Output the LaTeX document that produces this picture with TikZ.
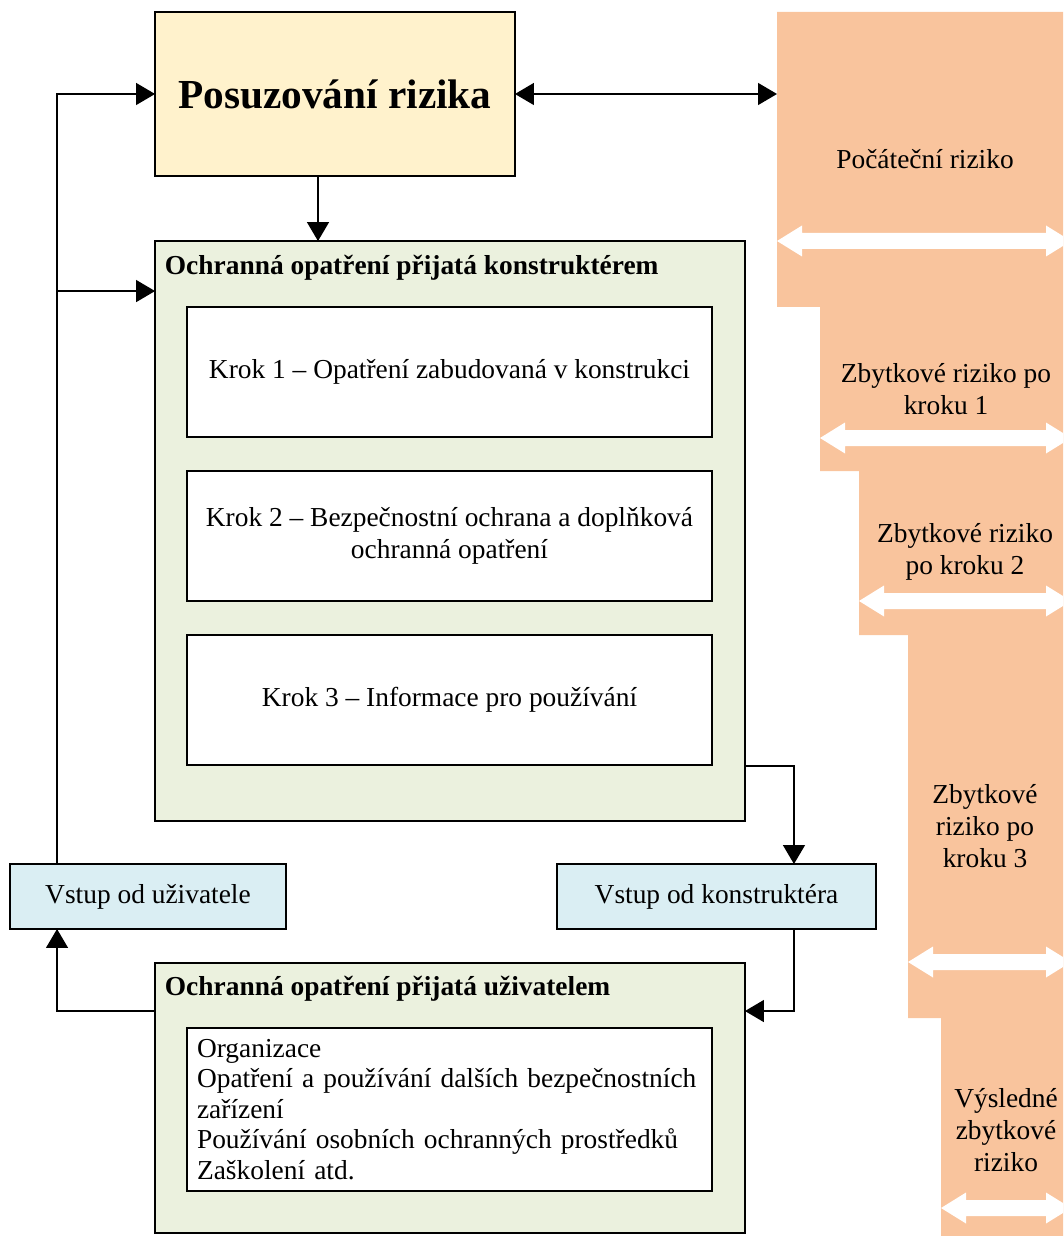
\documentclass[tikz,border=0pt]{standalone}
\usepackage{fontspec}
\setmainfont{Liberation Serif}
\usepackage{tikz}
\usepackage{xcolor}
\usetikzlibrary{arrows.meta}

\definecolor{zluta}{HTML}{FFF2CC}
\definecolor{zelena}{HTML}{EBF1DE}
\definecolor{modra}{HTML}{DAEEF3}
\definecolor{oranz}{HTML}{F9C49D}

\begin{document}
\begin{tikzpicture}[x=0.02cm,y=0.02cm,line width=0.8pt,
  >={Triangle[length=0.38cm,width=0.44cm]},
  every node/.style={font=\fontsize{15.6}{17.3}\selectfont,outer sep=0pt},
  krokbox/.style={draw,fill=white,minimum width=10.5cm,minimum height=2.6cm,align=center,
    font=\fontsize{15.6}{18.4}\selectfont},
  grbox/.style={draw,fill=zelena,minimum width=11.8cm},
  vstbox/.style={draw,fill=modra,minimum height=1.3cm},
  hd/.style={font=\fontsize{15.6}{17.3}\selectfont\bfseries,anchor=west},
  rz/.style={align=center,font=\fontsize{15.6}{18.4}\selectfont}]
  \useasboundingbox (0,0) rectangle (1063,-1236);

  \fill[oranz] (777,-12) -- (1063,-12) -- (1063,-1236) -- (941,-1236) -- (941,-1018)
    -- (908,-1018) -- (908,-635) -- (859,-635) -- (859,-471) -- (820,-471)
    -- (820,-307) -- (777,-307) -- cycle;
  \begin{scope}
    \clip (777,-12) rectangle (1063,-1236);
    \foreach \xa/\ya in {777/-241,820/-438,859/-601,908/-962,941/-1208}
      \fill[white] (\xa,\ya) -- ++(25,15.5) -- ++(0,-7.5) -- (1046,\ya+8) -- ++(0,7.5)
        -- (1071,\ya) -- ++(-25,-15.5) -- ++(0,7.5) -- (\xa+25,\ya-8) -- ++(0,-7.5) -- cycle;
  \end{scope}

  \node (pr) [draw,fill=zluta,minimum width=7.2cm,minimum height=3.28cm,
    font=\fontsize{23.5}{26}\selectfont\bfseries] at (335,-94) {Posuzování rizika};
  \node (ok) [grbox,minimum height=11.6cm] at (450,-531) {};
  \node (k1) [krokbox] at (449.5,-372) {Krok 1 – Opatření zabudovaná v konstrukci};
  \node (k2) [krokbox] at (449.5,-536) {Krok 2 – Bezpečnostní ochrana a doplňková\\ochranná opatření};
  \node (k3) [krokbox] at (449.5,-700) {Krok 3 – Informace pro používání};
  \node (vu) [vstbox,minimum width=5.52cm] at (148,-896.5) {Vstup od uživatele};
  \node (vk) [vstbox,minimum width=6.38cm] at (716.5,-896.5) {Vstup od konstruktéra};
  \node (ou) [grbox,minimum height=5.4cm] at (450,-1098) {};
  \node (ol) [krokbox,minimum height=3.26cm,text width=10.1cm,align=left,
    font=\fontsize{15.6}{17.3}\selectfont] at (449.5,-1109.5)
    {Organizace\\Opatření a používání dalších bezpečnostních\\zařízení\\Používání osobních ochranných prostředků\\Zaškolení atd.};
  \path (node cs:name=ok,anchor=north west) +(4,-27) node (hk) [hd] {Ochranná opatření přijatá konstruktérem};
  \path (node cs:name=ou,anchor=north west) +(4,-26) node (hu) [hd] {Ochranná opatření přijatá uživatelem};

  \node (r0) [rz] at (925,-159) {Počáteční riziko};
  \node (r1) [rz] at (946,-389) {Zbytkové riziko po\\kroku 1};
  \node (r2) [rz] at (965,-552) {Zbytkové riziko\\po kroku 2};
  \node (r3) [rz] at (985,-826) {Zbytkové\\riziko po\\kroku 3};
  \node (r4) [rz] at (1006,-1130) {Výsledné\\zbytkové\\riziko};

  \coordinate (rk) at (777,-94);
  \draw[<->] (pr.east) -- (rk);
  \path (node cs:name=pr,anchor=south) +(-17,0) coordinate (prs);
  \draw[->] (prs) -- (prs |- ok.north);
  \path (node cs:name=vu,anchor=north west) +(47,0) coordinate (vun);
  \path (node cs:name=vu,anchor=south west) +(47,0) coordinate (vus);
  \path (node cs:name=ok,anchor=north west) +(0,-50) coordinate (okw);
  \path (node cs:name=ok,anchor=south east) +(0,55) coordinate (oke);
  \path (node cs:name=vk,anchor=north east) +(-82,0) coordinate (vkn);
  \path (node cs:name=vk,anchor=south east) +(-82,0) coordinate (vks);
  \path (node cs:name=ou,anchor=north west) +(0,-48) coordinate (ouw);
  \path (node cs:name=ou,anchor=north east) +(0,-48) coordinate (oue);
  \draw[->] (vun) |- (pr.west);
  \draw[->] (vun |- okw) -- (okw);
  \draw[->] (oke) -| (vkn);
  \draw[->] (vks) |- (oue);
  \draw[->] (ouw) -| (vus);
\end{tikzpicture}
\end{document}
